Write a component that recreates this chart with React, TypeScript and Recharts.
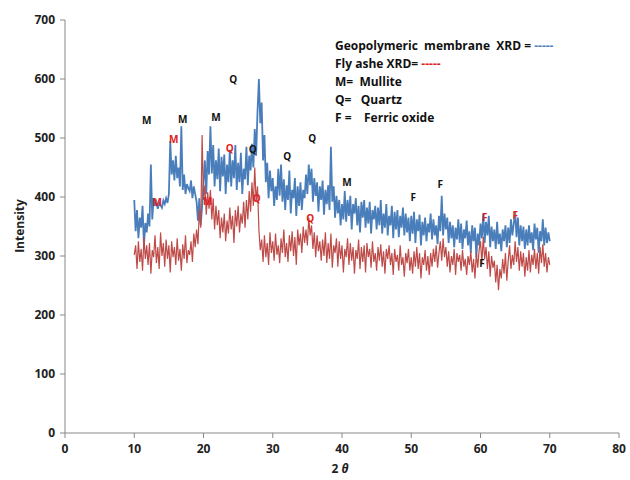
import { ComposedChart, Line, ReferenceDot, XAxis, YAxis } from 'recharts';

// 2θ from 10 to 70 in 0.2° steps
const THETA_START = 10;
const THETA_STEP = 0.2;

// Geopolymeric membrane XRD (5 values per degree)
const membrane = [
  395, 342, 378, 330, 365, 348, 385, 318, 356, 340, 372, 350, 455, 362, 398,
  385, 392, 380, 390, 386, 382, 394, 388, 398, 390, 405, 495, 438, 462, 428,
  470, 432, 450, 418, 520, 412, 438, 405, 422, 415, 410, 428, 398, 418, 405,
  392, 360, 398, 352, 385, 425, 462, 405, 478, 438, 520, 440, 488, 418, 462,
  430, 482, 410, 468, 435, 472, 405, 455, 425, 480, 418, 462, 432, 488, 412,
  458, 425, 475, 405, 448, 430, 485, 420, 470, 445, 490, 450, 515, 470, 545,
  600, 525, 560, 462, 505, 425, 458, 398, 445, 410, 432, 385, 418, 395, 448,
  402, 455, 392, 430, 378, 420, 395, 445, 372, 412, 398, 432, 368, 418, 385,
  425, 378, 412, 398, 438, 405, 455, 420, 448, 392, 432, 402, 425, 375, 418,
  395, 428, 370, 412, 388, 420, 378, 485, 392, 418, 365, 402, 372, 395, 352,
  388, 362, 410, 358, 395, 368, 402, 345, 388, 372, 398, 352, 385, 340, 392,
  365, 395, 348, 382, 355, 392, 338, 378, 362, 385, 345, 382, 352, 395, 338,
  372, 348, 388, 335, 368, 352, 385, 330, 375, 345, 378, 332, 368, 348, 382,
  335, 372, 340, 365, 325, 368, 338, 375, 322, 362, 342, 370, 318, 358, 335,
  365, 325, 355, 340, 372, 328, 362, 335, 352, 320, 368, 342, 402, 335, 372,
  345, 365, 322, 358, 330, 352, 315, 348, 328, 362, 322, 355, 312, 345, 330,
  360, 318, 342, 305, 352, 325, 348, 298, 338, 318, 355, 330, 372, 322, 358,
  335, 368, 315, 350, 325, 345, 312, 358, 320, 338, 308, 345, 325, 352, 315,
  348, 322, 362, 335, 355, 375, 332, 365, 318, 352, 325, 350, 312, 345, 318,
  352, 322, 340, 310, 355, 328, 348, 305, 342, 325, 362, 318, 348, 322, 340,
  325,
];

// Fly ash XRD
const flyAsh = [
  302, 318, 278, 325, 290, 312, 275, 332, 295, 318, 285, 322, 270, 310, 298,
  335, 288, 315, 278, 340, 300, 322, 282, 328, 295, 318, 272, 325, 298, 315,
  285, 330, 292, 312, 275, 320, 295, 335, 288, 310, 302, 325, 290, 338, 315,
  345, 320, 378, 348, 505, 395, 420, 370, 408, 380, 412, 362, 398, 345, 385,
  352, 378, 330, 365, 340, 372, 325, 360, 338, 382, 345, 368, 322, 378, 350,
  385, 340, 372, 355, 392, 348, 395, 362, 410, 375, 425, 385, 450, 392, 418,
  345, 310, 328, 290, 335, 298, 322, 285, 340, 305, 325, 292, 338, 302, 318,
  288, 330, 305, 345, 298, 322, 290, 335, 308, 342, 300, 332, 285, 345, 318,
  338, 305, 350, 322, 345, 318, 365, 335, 352, 312, 340, 298, 335, 308, 325,
  292, 328, 300, 340, 288, 322, 295, 338, 280, 318, 305, 330, 282, 325, 295,
  318, 272, 312, 298, 330, 285, 322, 292, 315, 270, 310, 295, 328, 278, 315,
  290, 318, 272, 322, 298, 312, 280, 325, 290, 305, 275, 315, 292, 320, 282,
  308, 270, 312, 295, 318, 285, 305, 268, 312, 290, 302, 275, 318, 285, 298,
  265, 305, 288, 312, 275, 298, 270, 308, 282, 315, 278, 305, 262, 298, 285,
  310, 275, 300, 268, 305, 282, 312, 290, 318, 280, 305, 325, 292, 330, 298,
  315, 282, 308, 272, 300, 285, 312, 268, 305, 290, 302, 275, 310, 282, 295,
  268, 300, 285, 308, 272, 295, 262, 305, 280, 310, 325, 288, 332, 295, 315,
  278, 308, 265, 300, 280, 292, 255, 285, 242, 278, 262, 295, 270, 305, 258,
  292, 318, 278, 302, 285, 325, 290, 315, 275, 308, 282, 305, 265, 298, 275,
  310, 272, 302, 285, 312, 278, 305, 270, 315, 288, 320, 282, 305, 272, 298,
  285,
];

// phase labels: [2θ, intensity, letter]
const blackLabels: [number, number, string][] = [
  [11.8, 529, 'M'], [17.0, 532, 'M'], [21.8, 534, 'M'], [24.3, 600, 'Q'],
  [27.1, 481, 'Q'], [32.1, 468, 'Q'], [35.7, 500, 'Q'], [40.7, 425, 'M'],
  [50.3, 400, 'F'], [54.2, 422, 'F'], [60.2, 288, 'F'],
];
const redLabels: [number, number, string][] = [
  [15.7, 497, 'M'], [13.3, 390, 'M'], [23.8, 483, 'Q'], [20.6, 392, 'M'],
  [27.7, 398, 'Q'], [35.4, 363, 'Q'], [60.6, 366, 'F'], [65.0, 368, 'F'],
];

const X_TICKS = [0, 10, 20, 30, 40, 50, 60, 70, 80];
const Y_TICKS = [0, 100, 200, 300, 400, 500, 600, 700];

const rows = membrane.map((m, i) => ({
  theta: THETA_START + i * THETA_STEP,
  membrane: m,
  flyAsh: flyAsh[i],
}));

const FONT = "'Open Sans', 'Liberation Sans', sans-serif";
const tickStyle = { fontSize: 12, fontWeight: 700, fill: '#222', fontFamily: FONT };

export default function App() {
  return (
    <div style={{ position: 'absolute', left: 0, top: 0, width: 630, height: 480, background: '#fff', fontFamily: FONT }}>
      <ComposedChart width={630} height={480} data={rows} margin={{ top: 20, right: 11, bottom: 22, left: 20 }}>
        <XAxis
          dataKey="theta"
          type="number"
          domain={[0, 80]}
          ticks={X_TICKS}
          stroke="#888"
          tick={tickStyle}
          tickSize={5}
          tickMargin={6}
          height={25}
        />
        <YAxis
          type="number"
          domain={[0, 700]}
          ticks={Y_TICKS}
          stroke="#888"
          tick={tickStyle}
          tickSize={5}
          tickMargin={5}
          width={45}
        />
        <Line dataKey="membrane" stroke="#4a7ebb" strokeWidth={1.8} dot={false} isAnimationActive={false} />
        <Line dataKey="flyAsh" stroke="#be4b48" strokeWidth={1.2} dot={false} isAnimationActive={false} />
        {blackLabels.map(([x, y, t], i) => (
          <ReferenceDot key={'b' + i} x={x} y={y} r={0} fill="none" stroke="none"
            label={{ value: t, position: 'center', fontSize: 10, fontWeight: 700, fill: '#111', fontFamily: FONT }} />
        ))}
        {redLabels.map(([x, y, t], i) => (
          <ReferenceDot key={'r' + i} x={x} y={y} r={0} fill="none" stroke="none"
            label={{ value: t, position: 'center', fontSize: 10, fontWeight: 700, fill: '#e02020', fontFamily: FONT }} />
        ))}
      </ComposedChart>
      <div style={{ position: 'absolute', left: 4, top: 226, transform: 'translate(0, -50%) rotate(-90deg)', transformOrigin: 'center', fontSize: 12, fontWeight: 700, color: '#222', width: 30, textAlign: 'center', whiteSpace: 'nowrap', display: 'flex', justifyContent: 'center' }}>
        Intensity
      </div>
      <div style={{ position: 'absolute', left: 0, width: 680, top: 460, textAlign: 'center', fontSize: 12, fontWeight: 700, color: '#222' }}>
        2 <i>θ</i>
      </div>
      <div style={{ position: 'absolute', left: 335, top: 37, fontSize: 12, fontWeight: 700, color: '#111', lineHeight: '18px' }}>
        <div>Geopolymeric&nbsp; membrane&nbsp; XRD = <span style={{ color: '#4a7ebb' }}>-----</span></div>
        <div>Fly ashe XRD= <span style={{ color: '#e02020' }}>-----</span></div>
        <div>M=&nbsp; Mullite</div>
        <div>Q=&nbsp;&nbsp; Quartz</div>
        <div>F =&nbsp;&nbsp;&nbsp; Ferric oxide</div>
      </div>
    </div>
  );
}
